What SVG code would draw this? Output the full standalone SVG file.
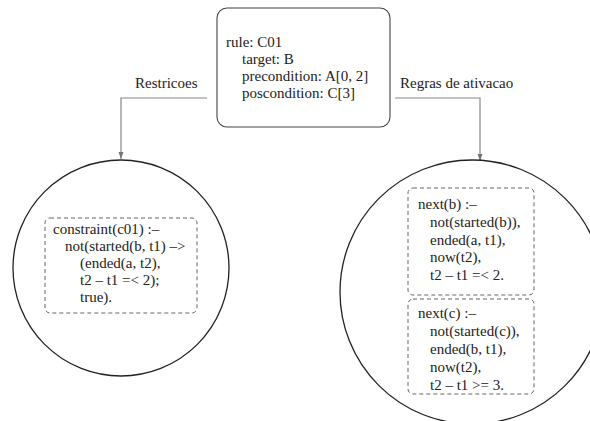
<svg xmlns="http://www.w3.org/2000/svg" width="590" height="421" viewBox="0 0 590 421">
  <style>
    text { font-family: "Liberation Serif", "Times New Roman", serif; font-size: 15px; fill: #222; }
    .rule { fill: #fff; stroke: #444; stroke-width: 1.1; }
    .ball { fill: #fff; stroke: #222; stroke-width: 1.3; }
    .clause { fill: none; stroke: #666; stroke-width: 1; stroke-dasharray: 4 3; }
    .edge { fill: none; stroke: #888; stroke-width: 1.2; }
  </style>
  <defs>
    <marker id="arrow" markerWidth="8" markerHeight="8" refX="7" refY="4" orient="auto" markerUnits="userSpaceOnUse">
      <path d="M0,1.5 L7,4 L0,6.5 Z" fill="#777"/>
    </marker>
  </defs>
  <rect width="590" height="421" fill="#fff"/>

  <!-- connectors -->
  <g id="connectors">
    <polyline class="edge" points="207,98 121,98 121,159" marker-end="url(#arrow)"/>
    <polyline class="edge" points="395,98 480,98 480,161" marker-end="url(#arrow)"/>
    <text x="135" y="88">Restricoes</text>
    <text x="400" y="88">Regras de ativacao</text>
  </g>

  <!-- rule C01 -->
  <g id="rule-c01">
    <rect class="rule" x="217" y="8" width="173" height="119" rx="10"/>
    <text x="226" y="47">rule: C01</text>
    <text x="242" y="64">target: B</text>
    <text x="242" y="81">precondition: A[0, 2]</text>
    <text x="242" y="98">poscondition: C[3]</text>
  </g>

  <!-- constraints -->
  <g id="restricoes">
    <circle class="ball" cx="121" cy="268" r="108"/>
    <rect class="clause" x="45" y="218" width="152" height="95" rx="5"/>
    <text x="53" y="234">constraint(c01) :–</text>
    <text x="65" y="251">not(started(b, t1) –&gt;</text>
    <text x="80" y="268">(ended(a, t2),</text>
    <text x="80" y="285">t2 – t1 =&lt; 2);</text>
    <text x="80" y="302">true).</text>
  </g>

  <!-- activation rules -->
  <g id="regras">
    <circle class="ball" cx="472" cy="292" r="132"/>
    <rect class="clause" x="408" y="188" width="126" height="107" rx="5"/>
    <text x="418" y="209">next(b) :–</text>
    <text x="430" y="227">not(started(b)),</text>
    <text x="430" y="245">ended(a, t1),</text>
    <text x="430" y="262">now(t2),</text>
    <text x="430" y="280">t2 – t1 =&lt; 2.</text>
    <rect class="clause" x="408" y="299" width="126" height="95" rx="5"/>
    <text x="418" y="318">next(c) :–</text>
    <text x="430" y="336">not(started(c)),</text>
    <text x="430" y="354">ended(b, t1),</text>
    <text x="430" y="372">now(t2),</text>
    <text x="430" y="390">t2 – t1 &gt;= 3.</text>
  </g>
</svg>
